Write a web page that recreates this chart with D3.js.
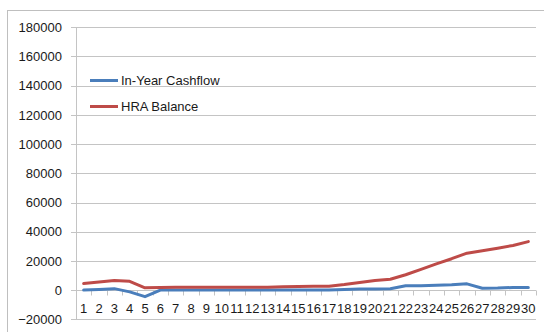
<!DOCTYPE html>
<html>
<head>
<meta charset="utf-8">
<script src="https://cdn.jsdelivr.net/npm/d3@7/dist/d3.min.js"></script>
<style>
  html, body { margin: 0; padding: 0; background: #ffffff; }
  svg { display: block; }
  text { font-family: "Liberation Sans", Arial, sans-serif; fill: #1a1a1a; }
</style>
</head>
<body>
<svg id="chart" width="544" height="332"></svg>
<script>
// Years 1..30 of the plan
const years = d3.range(1, 31);

// In-Year Cashflow per year
const cashflow = [0, 400, 1000, -1200, -4500, 0, 100, 100, 100, 100,
                  100, 100, 100, 100, 100, 100, 100, 400, 700, 800,
                  900, 3000, 3000, 3400, 3600, 4300, 1300, 1400, 1800, 1800];

// HRA Balance at year end
const balance = [4500, 5500, 6500, 6000, 1600, 1800, 2000, 2000, 2000, 2000,
                 2000, 2000, 2000, 2300, 2500, 2600, 2700, 3800, 5200, 6600,
                 7400, 10500, 14200, 18000, 21500, 25300, 26900, 28700, 30600, 33200];

// Value axis ticks
const yTicks = [-20000, 0, 20000, 40000, 60000, 80000, 100000, 120000, 140000, 160000, 180000];

const seriesNames = ["In-Year Cashflow", "HRA Balance"];
const seriesColors = ["#4a7ebb", "#be4b48"];

const svg = d3.select("#chart");

// Outer chart frame
svg.append("rect")
  .attr("x", 7.5).attr("y", 10.5)
  .attr("width", 560).attr("height", 340)
  .attr("fill", "none").attr("stroke", "#bfbfbf").attr("stroke-width", 1);

const plotLeft = 76, plotRight = 536, plotTop = 27.3, plotBottom = 319.3;

const x = d3.scaleBand().domain(years).range([plotLeft, plotRight]).paddingInner(0).paddingOuter(0);
const y = d3.scaleLinear().domain([-20000, 180000]).range([plotBottom, plotTop]);

// Horizontal gridlines with small outer ticks on the value axis
svg.append("g").selectAll("line")
  .data(yTicks)
  .join("line")
  .attr("x1", plotLeft - 5).attr("x2", plotRight)
  .attr("y1", d => Math.round(y(d)) + 0.5)
  .attr("y2", d => Math.round(y(d)) + 0.5)
  .attr("stroke", "#c4c4c4").attr("stroke-width", 1);

// Value axis line
svg.append("line")
  .attr("x1", plotLeft + 0.5).attr("x2", plotLeft + 0.5)
  .attr("y1", Math.round(plotTop) + 0.5).attr("y2", Math.round(plotBottom) + 0.5)
  .attr("stroke", "#c4c4c4").attr("stroke-width", 1);

// Value axis labels
svg.append("g").selectAll("text")
  .data(yTicks)
  .join("text")
  .attr("x", 62)
  .attr("y", d => y(d))
  .attr("dy", "0.36em")
  .attr("text-anchor", "end")
  .attr("font-size", 13)
  .text(d => d3.format("d")(d));

// Category axis crosses at zero: tick marks between categories
const zeroY = Math.round(y(0)) + 0.5;
const boundaries = years.map(v => x(v)).concat([x(years[years.length - 1]) + x.bandwidth()]);
svg.append("g").selectAll("line")
  .data(boundaries)
  .join("line")
  .attr("x1", d => Math.round(d) + 0.5).attr("x2", d => Math.round(d) + 0.5)
  .attr("y1", zeroY).attr("y2", zeroY + 5)
  .attr("stroke", "#c4c4c4").attr("stroke-width", 1);

// Category labels
svg.append("g").selectAll("text")
  .data(years)
  .join("text")
  .attr("x", d => x(d) + x.bandwidth() / 2)
  .attr("y", 308)
  .attr("dy", "0.36em")
  .attr("text-anchor", "middle")
  .attr("font-size", 13)
  .text(d => d);

// Series lines
const line = d3.line()
  .x((d, i) => x(years[i]) + x.bandwidth() / 2)
  .y(d => y(d));

[cashflow, balance].forEach((vals, k) => {
  svg.append("path")
    .datum(vals)
    .attr("d", line)
    .attr("fill", "none")
    .attr("stroke", seriesColors[k])
    .attr("stroke-width", 3)
    .attr("stroke-linejoin", "round")
    .attr("stroke-linecap", "round");
});

// Legend
const legend = svg.append("g");
seriesNames.forEach((name, k) => {
  const ly = 80.5 + k * 26;
  legend.append("line")
    .attr("x1", 90).attr("x2", 118)
    .attr("y1", ly).attr("y2", ly)
    .attr("stroke", seriesColors[k]).attr("stroke-width", 3);
  legend.append("text")
    .attr("x", 121).attr("y", ly)
    .attr("dy", "0.36em")
    .attr("font-size", 13)
    .text(name);
});
</script>
</body>
</html>
